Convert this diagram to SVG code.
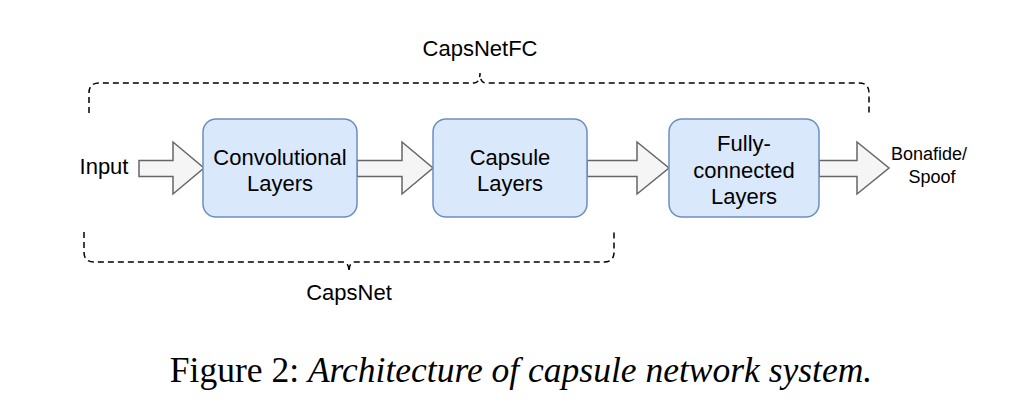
<svg xmlns="http://www.w3.org/2000/svg" width="1036" height="402" viewBox="0 0 1036 402">
<style>
.box{fill:#dae8fc;stroke:#6c8ebf;stroke-width:1.5}
.arr{fill:#f5f5f5;stroke:#666666;stroke-width:1.5;stroke-linejoin:miter}
.brace{fill:none;stroke:#000;stroke-width:1.5;stroke-dasharray:6 4}
.t{font-family:"Liberation Sans",Arial,Helvetica,sans-serif;font-size:22px;fill:#000;text-anchor:middle}
.s{font-family:"Liberation Sans",Arial,Helvetica,sans-serif;font-size:18px;fill:#000;text-anchor:middle}
.cap{font-family:"Liberation Serif","Times New Roman",serif;font-size:35.5px;fill:#000;text-anchor:middle}
</style>
<rect width="1036" height="402" fill="#ffffff"/>
<g id="connectors">
<path class="arr" d="M139,160.5 H173 V142 L204,168 L173,194 V176.5 H139 Z"/>
<path class="arr" d="M357,160.5 H402 V142 L433,168 L402,194 V176.5 H357 Z"/>
<path class="arr" d="M587,160.5 H637 V142 L669,168 L637,194 V176.5 H587 Z"/>
<path class="arr" d="M819,160.5 H857 V142 L889,168 L857,194 V176.5 H819 Z"/>
</g>
<g id="brace-capsnetfc">
<path class="brace" d="M89,113 V93 Q89,83 99,83 H474 Q480,83 480,73 Q480,83 486,83 H859 Q869,83 869,93 V113"/>
<text class="t" x="480" y="56">CapsNetFC</text>
</g>
<g id="brace-capsnet">
<path class="brace" d="M84,232 V252 Q84,262 94,262 H343 Q349,262 349,272 Q349,262 355,262 H604 Q614,262 614,252 V232"/>
<text class="t" x="349" y="300">CapsNet</text>
</g>
<g id="input">
<text class="t" x="104" y="174">Input</text>
</g>
<g id="conv">
<rect class="box" x="203" y="119" width="154" height="98" rx="13"/>
<text class="t" x="280" y="165">Convolutional</text>
<text class="t" x="280" y="191">Layers</text>
</g>
<g id="capsule">
<rect class="box" x="433" y="119" width="154" height="98" rx="13"/>
<text class="t" x="510" y="165">Capsule</text>
<text class="t" x="510" y="191">Layers</text>
</g>
<g id="fc">
<rect class="box" x="669" y="119" width="150" height="98" rx="13"/>
<text class="t" x="744" y="151">Fully-</text>
<text class="t" x="744" y="178">connected</text>
<text class="t" x="744" y="204">Layers</text>
</g>
<g id="output">
<text class="s" x="929" y="160">Bonafide/</text>
<text class="s" x="932" y="183">Spoof</text>
</g>
<text class="cap" x="521" y="382">Figure 2: <tspan font-style="italic">Architecture of capsule network system.</tspan></text>
</svg>
